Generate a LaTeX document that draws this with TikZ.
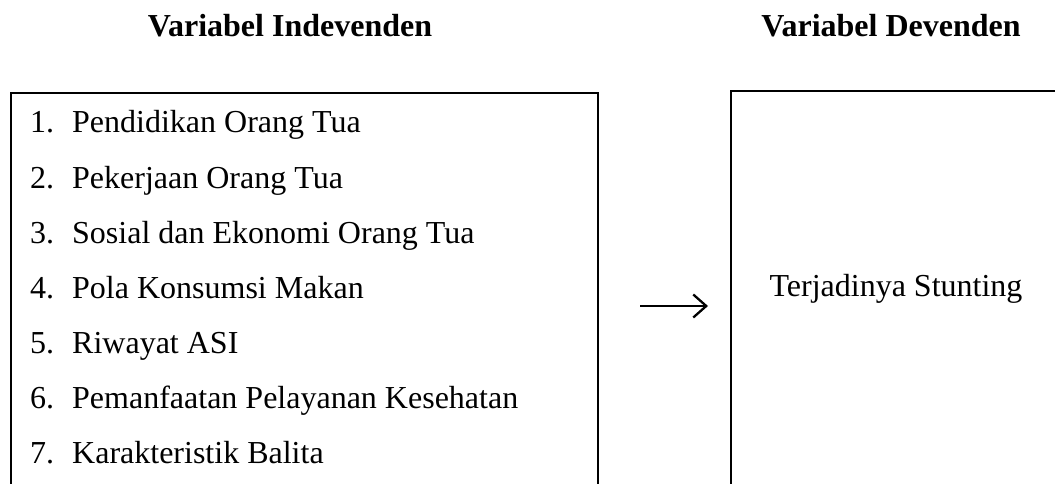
\documentclass[tikz,border=0pt]{standalone}
\usepackage{fontspec}
\setmainfont{Liberation Serif}
\usetikzlibrary{arrows.meta}
\tikzset{
  txt/.style={font=\fontsize{32}{38}\selectfont, inner sep=0pt, anchor=base west},
  head/.style={font=\fontsize{32}{38}\selectfont\bfseries, inner sep=0pt, anchor=base},
  boxl/.style={draw, line width=1.5pt, anchor=north west, inner sep=0pt},
  boxr/.style={draw, line width=2.2pt, anchor=north west, inner sep=0pt},
  conn/.style={line width=2.3pt, -{Straight Barb[length=13pt,width=23pt,line width=2.3pt]}}
}
\begin{document}
\begin{tikzpicture}[x=1pt,y=-1pt]
\useasboundingbox (0,0) rectangle (1055,484);
\clip (0,0) rectangle (1055,484);
\node[head] (h1) at (290,37) {Variabel Indevenden};
\node[head] (h2) at (891,37) {Variabel Devenden};
\node[boxl, minimum width=587pt, minimum height=420pt] (lb) at (10,92.5) {};
\node[boxr, minimum width=360pt, minimum height=420pt] (rb) at (730,90) {};
\foreach \i/\t [count=\k from 0] in {1/Pendidikan Orang Tua,2/Pekerjaan Orang Tua,3/Sosial dan Ekonomi Orang Tua,4/Pola Konsumsi Makan,5/Riwayat ASI,6/Pemanfaatan Pelayanan Kesehatan,7/Karakteristik Balita}{
  \node[txt] (n\i) at (30,133+55*\k) {\i.};
  \node[txt] (t\i) at (72,133+55*\k) {\t};
}
\node[txt, anchor=base] (dv) at (896,296) {Terjadinya Stunting};
\coordinate (as) at (640,306);
\coordinate (ae) at (708,306);
\draw[conn] (as) -- (ae);
\end{tikzpicture}
\end{document}
